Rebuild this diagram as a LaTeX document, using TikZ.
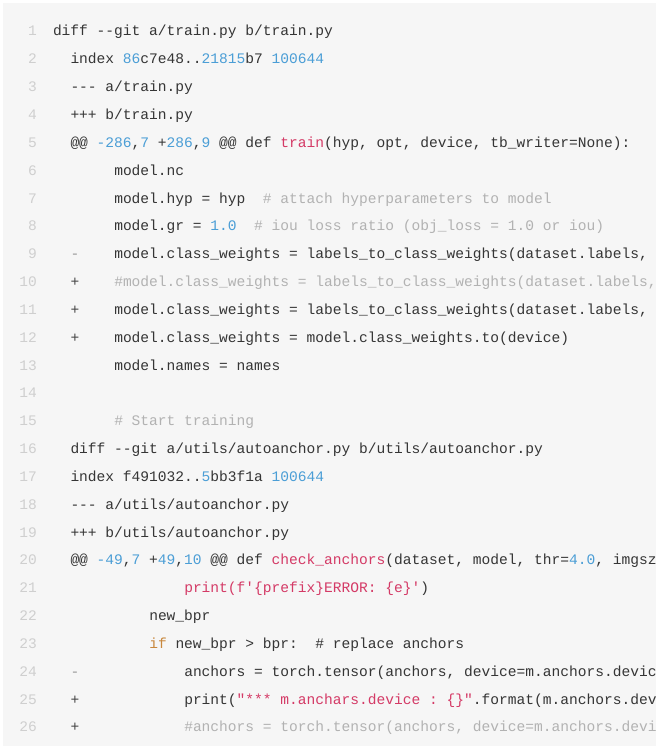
\documentclass[tikz,border=0pt]{standalone}
\usepackage{fontspec}
\setmonofont{Liberation Mono}
\definecolor{boxbg}{HTML}{F6F6F6}
\definecolor{codetext}{HTML}{353535}
\definecolor{hlblueC}{HTML}{4B9ED6}
\definecolor{hlpinkC}{HTML}{D43A66}
\definecolor{hlgrayC}{HTML}{B2B2B2}
\definecolor{hlorangeC}{HTML}{C8873C}
\definecolor{lnumC}{HTML}{CFCFCF}
\definecolor{minusC}{HTML}{9A9A9A}
\definecolor{plusC}{HTML}{454545}
\newcommand\hlblue[1]{\textcolor{hlblueC}{#1}}
\newcommand\hlpink[1]{\textcolor{hlpinkC}{#1}}
\newcommand\hlgray[1]{\textcolor{hlgrayC}{#1}}
\newcommand\hlorange[1]{\textcolor{hlorangeC}{#1}}
\newcommand\codeline[3]{%
  \node[codetxt] (c#1) at ({53+#2*8.75},{710-(#1-1)*27.84}) {#3};}
\newcommand\linenum[1]{%
  \node[lnumtxt] (n#1) at (37,{710-(#1-1)*27.84}) {#1};}
\newcommand\diffsignat[2]{%
  \node[diffsign] (s#1) at ({53+2*8.75},{710-(#1-1)*27.84}) {#2};}
\begin{document}
\begin{tikzpicture}[x=1pt,y=1pt,
  codetxt/.style={anchor=base west,inner sep=0pt,outer sep=0pt,text=codetext,
    font=\ttfamily\fontsize{14.58}{17}\selectfont},
  lnumtxt/.style={anchor=base east,inner sep=0pt,text=lnumC,
    font=\ttfamily\fontsize{14.58}{17}\selectfont},
  diffsign/.style={anchor=base west,inner sep=0pt,
    font=\ttfamily\fontsize{14.58}{17}\selectfont}]
\useasboundingbox (0,0) rectangle (660,746);
\fill[white] (0,0) rectangle (660,746);
\fill[boxbg] (3,0) rectangle (656,743);
\foreach \i in {1,...,26} {\linenum{\i}}
\begin{scope}
\clip (3,0) rectangle (656,743);
\codeline{1}{0}{diff --git a/train.py b/train.py}
\codeline{2}{2}{index \hlblue{86}c7e48..\hlblue{21815}b7 \hlblue{100644}}
\codeline{3}{2}{--- a/train.py}
\codeline{4}{2}{+++ b/train.py}
\codeline{5}{2}{@@ \hlblue{-286},\hlblue{7} +\hlblue{286},\hlblue{9} @@ def \hlpink{train}(hyp, opt, device, tb\_writer=None):}
\codeline{6}{7}{model.nc}
\codeline{7}{7}{model.hyp = hyp~~\hlgray{\# attach hyperparameters to model}}
\codeline{8}{7}{model.gr = \hlblue{1.0}~~\hlgray{\# iou loss ratio (obj\_loss = 1.0 or iou)}}
\diffsignat{9}{\textcolor{minusC}{-}}
\codeline{9}{7}{model.class\_weights = labels\_to\_class\_weights(dataset.labels,}
\diffsignat{10}{\textcolor{plusC}{+}}
\codeline{10}{7}{\hlgray{\#model.class\_weights = labels\_to\_class\_weights(dataset.labels,}}
\diffsignat{11}{\textcolor{plusC}{+}}
\codeline{11}{7}{model.class\_weights = labels\_to\_class\_weights(dataset.labels,}
\diffsignat{12}{\textcolor{plusC}{+}}
\codeline{12}{7}{model.class\_weights = model.class\_weights.to(device)}
\codeline{13}{7}{model.names = names}
\codeline{15}{7}{\hlgray{\# Start training}}
\codeline{16}{2}{diff --git a/utils/autoanchor.py b/utils/autoanchor.py}
\codeline{17}{2}{index f491032..\hlblue{5}bb3f1a \hlblue{100644}}
\codeline{18}{2}{--- a/utils/autoanchor.py}
\codeline{19}{2}{+++ b/utils/autoanchor.py}
\codeline{20}{2}{@@ \hlblue{-49},\hlblue{7} +\hlblue{49},\hlblue{10} @@ def \hlpink{check\_anchors}(dataset, model, thr=\hlblue{4.0}, imgsz}
\codeline{21}{15}{\hlpink{print(f'\{prefix\}ERROR: \{e\}'})}
\codeline{22}{11}{new\_bpr}
\codeline{23}{11}{\hlorange{if} new\_bpr > bpr:~~\# replace anchors}
\diffsignat{24}{\textcolor{minusC}{-}}
\codeline{24}{15}{anchors = torch.tensor(anchors, device=m.anchors.devic}
\diffsignat{25}{\textcolor{plusC}{+}}
\codeline{25}{15}{print(\hlpink{"*** m.anchars.device : \{\}"}.format(m.anchors.dev}
\diffsignat{26}{\textcolor{plusC}{+}}
\codeline{26}{15}{\hlgray{\#anchors = torch.tensor(anchors, device=m.anchors.devi}}
\end{scope}
\end{tikzpicture}
\end{document}
